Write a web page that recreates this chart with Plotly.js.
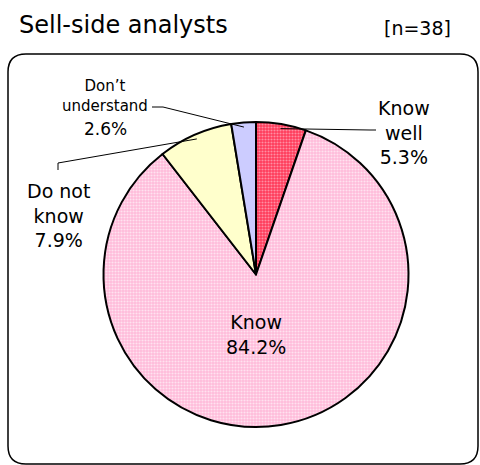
<!DOCTYPE html>
<html>
<head>
<meta charset="utf-8">
<script src="https://cdn.plot.ly/plotly-3.0.1.min.js"></script>
<style>html,body{margin:0;padding:0;background:#fff}#chart{width:480px;height:465px}</style>
</head>
<body>
<div id="chart"></div>
<script>
// ---- data ----
const categories = ['Know well', 'Know', 'Do not know', 'Don\u2019t understand'];
const shares = [5.3, 84.2, 7.9, 2.6];
const labelLines = [['Know', 'well'], ['Know'], ['Do not', 'know'], ['Don\u2019t', 'understand']];
const chartTitle = 'Sell-side analysts';
const sampleLabel = '[n=38]';

// ---- styling / layout ----
const W = 480, H = 465;
const FONT = 'DejaVu Sans, Liberation Sans, sans-serif';
const sliceColors = ['#FF4763', '#FFC6DF', '#FFFFCC', '#CCCCFF'];
const patBg = ['#FF3A5A', '#FFBCDA', '#FFFFCC', '#CCCCFF'];
const patFg = ['#FF8FA3', '#FFE2F0', '#FFFFCC', '#CCCCFF'];
const patShape = ['.', '.', '', ''];

const cx = 256, cy = 274.5, R = 152.5;
const px = x => x / W;
const py = y => 1 - y / H;

// mid-angle point of each slice on the rim (clockwise from 12 o'clock)
const total = shares.reduce((a, b) => a + b, 0);
let acc = 0;
const rim = shares.map(v => {
  const mid = (acc + v / 2) / total * 2 * Math.PI;
  acc += v;
  return [cx + R * 0.97 * Math.sin(mid), cy - R * 0.97 * Math.cos(mid)];
});
const pct = shares.map(v => v.toFixed(1) + '%');

const trace = {
  type: 'pie',
  labels: categories,
  values: shares,
  sort: false,
  direction: 'clockwise',
  rotation: 0,
  textinfo: 'none',
  hoverinfo: 'skip',
  showlegend: false,
  domain: {x: [px(cx - R), px(cx + R)], y: [py(cy + R), py(cy - R)]},
  marker: {
    colors: sliceColors,
    line: {color: '#000', width: 2},
    pattern: {shape: patShape, bgcolor: patBg, fgcolor: patFg, size: 3, solidity: 0.4}
  }
};

function ann(text, x, y, size, xanchor) {
  return {text: text, x: px(x), y: py(y), xref: 'paper', yref: 'paper',
    xanchor: xanchor || 'center', yanchor: 'middle', showarrow: false,
    font: {family: FONT, size: size, color: '#000'}};
}

const annotations = [
  ann(chartTitle, 17, 25, 24, 'left'),
  ann(sampleLabel, 453, 28, 19, 'right'),
  // Know well
  ann(labelLines[0].join('<br>') + '<br>' + pct[0], 404, 132, 19),
  // Know
  ann(labelLines[1].join('<br>') + '<br>' + pct[1], 256, 334, 19),
  // Do not know
  ann(labelLines[2].join('<br>') + '<br>' + pct[2], 58, 215, 19),
  // Don't understand
  ann(labelLines[3].join('<br>'), 105, 96, 15),
  ann(pct[3], 105, 129, 17)
];

function pathOf(pts) {
  return pts.map((p, i) => (i ? 'L' : 'M') + px(p[0]) + ',' + py(p[1])).join(' ');
}
const x0 = 8, y0 = 54, x1 = 478, y1 = 464, r = 18;
const border = 'M' + px(x0 + r) + ',' + py(y0) +
  ' L' + px(x1 - r) + ',' + py(y0) +
  ' Q' + px(x1) + ',' + py(y0) + ' ' + px(x1) + ',' + py(y0 + r) +
  ' L' + px(x1) + ',' + py(y1 - r) +
  ' Q' + px(x1) + ',' + py(y1) + ' ' + px(x1 - r) + ',' + py(y1) +
  ' L' + px(x0 + r) + ',' + py(y1) +
  ' Q' + px(x0) + ',' + py(y1) + ' ' + px(x0) + ',' + py(y1 - r) +
  ' L' + px(x0) + ',' + py(y0 + r) +
  ' Q' + px(x0) + ',' + py(y0) + ' ' + px(x0 + r) + ',' + py(y0) + ' Z';

const lineStyle = {color: '#000', width: 1};
const shapes = [
  {type: 'path', xref: 'paper', yref: 'paper', path: border, line: {color: '#000', width: 1.5}, layer: 'below'},
  {type: 'path', xref: 'paper', yref: 'paper', path: pathOf([rim[0], [370, 130], [376, 130]]), line: lineStyle},
  {type: 'path', xref: 'paper', yref: 'paper', path: pathOf([[58, 170], [58, 163], rim[2]]), line: lineStyle},
  {type: 'path', xref: 'paper', yref: 'paper', path: pathOf([[152, 107], [163, 107], rim[3]]), line: lineStyle}
];

const layout = {
  width: W, height: H,
  margin: {l: 0, r: 0, t: 0, b: 0},
  paper_bgcolor: '#fff',
  plot_bgcolor: '#fff',
  annotations: annotations,
  shapes: shapes
};

Plotly.newPlot('chart', [trace], layout, {displayModeBar: false, staticPlot: true});
</script>
</body>
</html>
